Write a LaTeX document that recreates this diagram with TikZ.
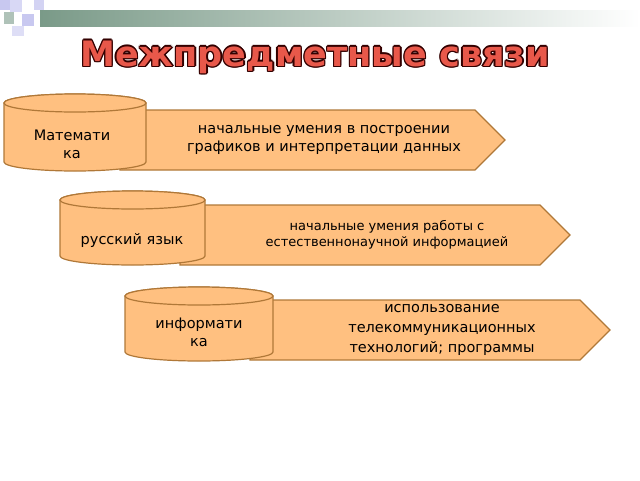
\documentclass[tikz,border=0pt]{standalone}
\usepackage{fontspec}
\setmainfont{DejaVu Sans}
\usetikzlibrary{shadings,calc}
\definecolor{peach}{HTML}{FFC080}
\definecolor{edge}{HTML}{B07838}
\definecolor{titred}{HTML}{E8584A}
\definecolor{barg}{HTML}{7A9A88}
\definecolor{lav}{HTML}{C8C8F0}
\tikzset{
  cylfill/.style={fill=peach,draw=edge,line width=1.2pt},
  arrowbox/.style={fill=peach,draw=edge,line width=1.2pt},
  lbl/.style={align=center,font=\fontsize{14.5}{18}\selectfont,text=black}
}
\newcommand{\mycyl}[5]{% left, right, top y, bottom y, name
  \path[cylfill] (#1,#3) -- (#1,#4) arc[start angle=180,end angle=0,x radius={(#2-#1)/2},y radius=9] -- (#2,#3) arc[start angle=0,end angle=-180,x radius={(#2-#1)/2},y radius=9] -- cycle;
  \path[cylfill] ({(#1+#2)/2},#3) ellipse[x radius={(#2-#1)/2},y radius=9];
  \coordinate (#5) at ({(#1+#2)/2},{(#3+#4)/2+8});
}
\begin{document}
\begin{tikzpicture}[x=1pt,y=-1pt]
\useasboundingbox (0,0) rectangle (640,480);
\fill[white] (0,0) rectangle (640,480);
% top bar
\shade[left color=barg,right color=white] (40,10) rectangle (640,26);
\fill[lav] (0,0) rectangle (10,10);
\fill[lav!70] (10,0) rectangle (22,12);
\fill[barg!60] (4,12) rectangle (14,24);
\fill[lav] (22,14) rectangle (34,26);
\fill[lav!60] (12,26) rectangle (24,36);
\fill[lav!80] (34,0) rectangle (44,10);
% title
\foreach \dx/\dy in {-1.3/0,1.3/0,0/-1.3,0/1.3,-1/-1,1/1,-1/1,1/-1}
  \node[text=black!80!red,font=\bfseries\fontsize{35}{38}\selectfont] at ($(315,57)+(\dx,\dy)$) {Межпредметные связи};
\node (title) [text=titred,font=\bfseries\fontsize{35}{38}\selectfont] at (315,57) {Межпредметные связи};
% row 1
\path[arrowbox] (120,110) -- (475,110) -- (505,140) -- (475,170) -- (120,170) -- cycle;
\mycyl{4}{146}{103}{162}{c1}
\node (t1) [lbl] at (72,144) {Математи\\ка};
\node (a1) [lbl] at (324,140) {начальные умения в построении\\графиков и интерпретации данных};
% row 2
\path[arrowbox] (180,205) -- (540,205) -- (570,235) -- (540,265) -- (180,265) -- cycle;
\mycyl{60}{205}{200}{256}{c2}
\node (t2) [lbl] at (132,240) {русский язык};
\node (a2) [lbl,font=\fontsize{13}{16}\selectfont] at (387,235) {начальные умения работы с\\естественнонаучной информацией};
% row 3
\path[arrowbox] (250,300) -- (580,300) -- (610,330) -- (580,360) -- (250,360) -- cycle;
\mycyl{125}{273}{296}{352}{c3}
\node (t3) [lbl] at (199,332) {информати\\ка};
\node (a3) [lbl,font=\fontsize{14.5}{20}\selectfont] at (442,330) {использование\\телекоммуникационных\\технологий; программы};
\end{tikzpicture}
\end{document}
